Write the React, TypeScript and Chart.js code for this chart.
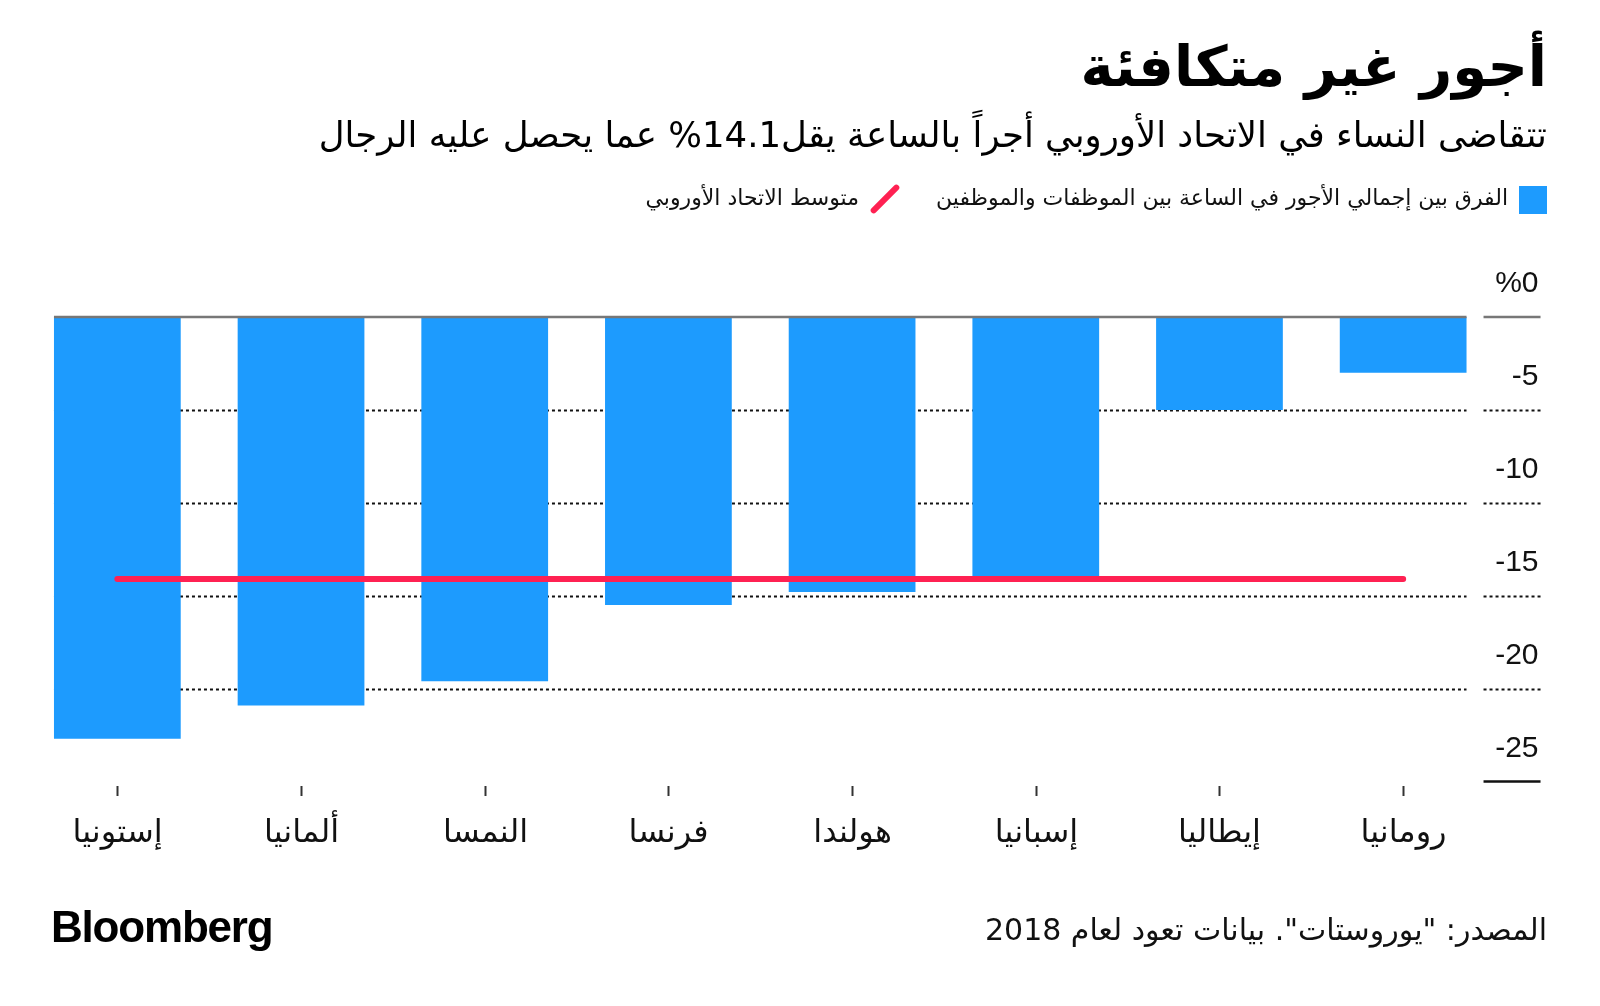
import React, { useEffect, useRef } from "react";
import { Chart, registerables } from "chart.js";

Chart.register(...registerables);

const categories = ["إستونيا", "ألمانيا", "النمسا", "فرنسا", "هولندا", "إسبانيا", "إيطاليا", "رومانيا"];
const payGap = [-22.7, -20.9, -19.6, -15.5, -14.8, -14.0, -5.0, -3.0];
const euAverage = [-14.1, -14.1, -14.1, -14.1, -14.1, -14.1, -14.1, -14.1];
const yTicks = [0, -5, -10, -15, -20, -25];
const yTickLabels = ["%0", "-5", "-10", "-15", "-20", "-25"];

const TITLE = "أجور غير متكافئة";
const SUBTITLE = "تتقاضى النساء في الاتحاد الأوروبي أجراً بالساعة يقل14.1% عما يحصل عليه الرجال";
const LEGEND_BAR = "الفرق بين إجمالي الأجور في الساعة بين الموظفات والموظفين";
const LEGEND_LINE = "متوسط الاتحاد الأوروبي";
const SOURCE = "المصدر: \"يوروستات\". بيانات تعود لعام 2018";

const BLUE = "#1D9BFE";
const RED = "#FF2152";
const AR_FONT = "'DejaVu Sans', 'Noto Sans', sans-serif";
const NUM_FONT = "'Liberation Sans', Arial, sans-serif";

const decorPlugin = {
  id: "decor",
  beforeDatasetsDraw(chart: any) {
    const { ctx, scales } = chart;
    const y = scales.y;
    const meta = chart.getDatasetMeta(0);
    const first = meta.data[0];
    const last = meta.data[meta.data.length - 1];
    const left = first.x - first.width / 2;
    const right = last.x + last.width / 2;
    const segL = right + 17;
    const segR = right + 74;
    ctx.save();
    ctx.strokeStyle = "#111";
    ctx.lineWidth = 2;
    ctx.setLineDash([3, 3]);
    yTicks.forEach((v, i) => {
      if (i === 0 || i === yTicks.length - 1) return;
      const py = Math.round(y.getPixelForValue(v)) + 0.5;
      ctx.beginPath();
      ctx.moveTo(left, py);
      ctx.lineTo(right, py);
      ctx.moveTo(segL, py);
      ctx.lineTo(segR, py);
      ctx.stroke();
    });
    ctx.restore();
  },
  afterDatasetsDraw(chart: any) {
    const { ctx, scales } = chart;
    const x = scales.x;
    const y = scales.y;
    const meta = chart.getDatasetMeta(0);
    const first = meta.data[0];
    const last = meta.data[meta.data.length - 1];
    const left = first.x - first.width / 2;
    const right = last.x + last.width / 2;
    const segL = right + 17;
    const segR = right + 74;
    ctx.save();
    const y0 = y.getPixelForValue(0);
    ctx.strokeStyle = "#777";
    ctx.lineWidth = 2.5;
    ctx.beginPath();
    ctx.moveTo(left, y0);
    ctx.lineTo(right, y0);
    ctx.moveTo(segL, y0);
    ctx.lineTo(segR, y0);
    ctx.stroke();
    const yb = y.getPixelForValue(yTicks[yTicks.length - 1]);
    ctx.strokeStyle = "#111";
    ctx.lineWidth = 2.5;
    ctx.beginPath();
    ctx.moveTo(segL, yb);
    ctx.lineTo(segR, yb);
    ctx.stroke();
    ctx.fillStyle = "#111";
    ctx.font = `30px ${NUM_FONT}`;
    ctx.textAlign = "right";
    ctx.textBaseline = "middle";
    yTicks.forEach((v, i) => {
      ctx.fillText(yTickLabels[i], segR - 2, y.getPixelForValue(v) - 33);
    });
    ctx.strokeStyle = "#333";
    ctx.lineWidth = 2;
    ctx.font = `32px ${AR_FONT}`;
    ctx.textAlign = "center";
    categories.forEach((c, i) => {
      const px = Math.round(x.getPixelForValue(i)) + 0.5;
      ctx.beginPath();
      ctx.moveTo(px, 786);
      ctx.lineTo(px, 796);
      ctx.stroke();
      ctx.fillText(c, px, 834);
    });
    ctx.restore();
  },
};

export default function App() {
  const ref = useRef<HTMLCanvasElement>(null);
  useEffect(() => {
    if (!ref.current) return;
    const chart = new Chart(ref.current, {
      type: "bar",
      data: {
        labels: categories,
        datasets: [
          {
            type: "bar",
            label: LEGEND_BAR,
            data: payGap,
            backgroundColor: BLUE,
            borderWidth: 0,
            categoryPercentage: 1,
            barPercentage: 0.69,
            order: 2,
          },
          {
            type: "line",
            label: LEGEND_LINE,
            data: euAverage,
            borderColor: RED,
            borderWidth: 6,
            borderCapStyle: "round",
            pointRadius: 0,
            fill: false,
            order: 1,
          } as any,
        ],
      },
      options: {
        responsive: false,
        animation: false,
        devicePixelRatio: 1,
        layout: { padding: { left: 25.5, right: 105, top: 317, bottom: 224.4 } },
        plugins: { legend: { display: false }, tooltip: { enabled: false } },
        scales: {
          x: { display: false },
          y: { display: false, min: -25, max: 0 },
        },
      },
      plugins: [decorPlugin],
    });
    return () => chart.destroy();
  }, []);

  const abs = (s: React.CSSProperties): React.CSSProperties => ({ position: "absolute", margin: 0, whiteSpace: "nowrap", ...s });

  return (
    <div style={{ position: "absolute", left: 0, top: 0, width: 1600, height: 1006, background: "#fff", overflow: "hidden" }}>
      <canvas ref={ref} width={1600} height={1006} style={{ position: "absolute", left: 0, top: 0 }} />
      <div dir="rtl" style={abs({ right: 53, top: 29, fontFamily: AR_FONT, fontWeight: 700, fontSize: 56, lineHeight: "76px", color: "#000" })}>{TITLE}</div>
      <div dir="rtl" style={abs({ right: 53, top: 111, fontFamily: AR_FONT, fontSize: 35.5, lineHeight: "48px", color: "#000" })}>{SUBTITLE}</div>
      <div style={abs({ left: 1519, top: 186, width: 28, height: 28, background: BLUE })} />
      <div dir="rtl" style={abs({ right: 1600 - 1508, top: 182, fontFamily: AR_FONT, fontSize: 22, lineHeight: "32px", color: "#111" })}>{LEGEND_BAR}</div>
      <div style={abs({ left: 882, top: 180, width: 6, height: 38, background: RED, borderRadius: 3, transform: "rotate(45deg)" })} />
      <div dir="rtl" style={abs({ right: 1600 - 859, top: 182, fontFamily: AR_FONT, fontSize: 22, lineHeight: "32px", color: "#111" })}>{LEGEND_LINE}</div>
      <div dir="rtl" style={abs({ right: 53, top: 908, fontFamily: AR_FONT, fontSize: 30, lineHeight: "44px", color: "#111" })}>{SOURCE}</div>
      <div style={abs({ left: 51, top: 903, fontFamily: NUM_FONT, fontWeight: 700, fontSize: 44, lineHeight: "48px", letterSpacing: -1.2, color: "#000" })}>Bloomberg</div>
    </div>
  );
}
